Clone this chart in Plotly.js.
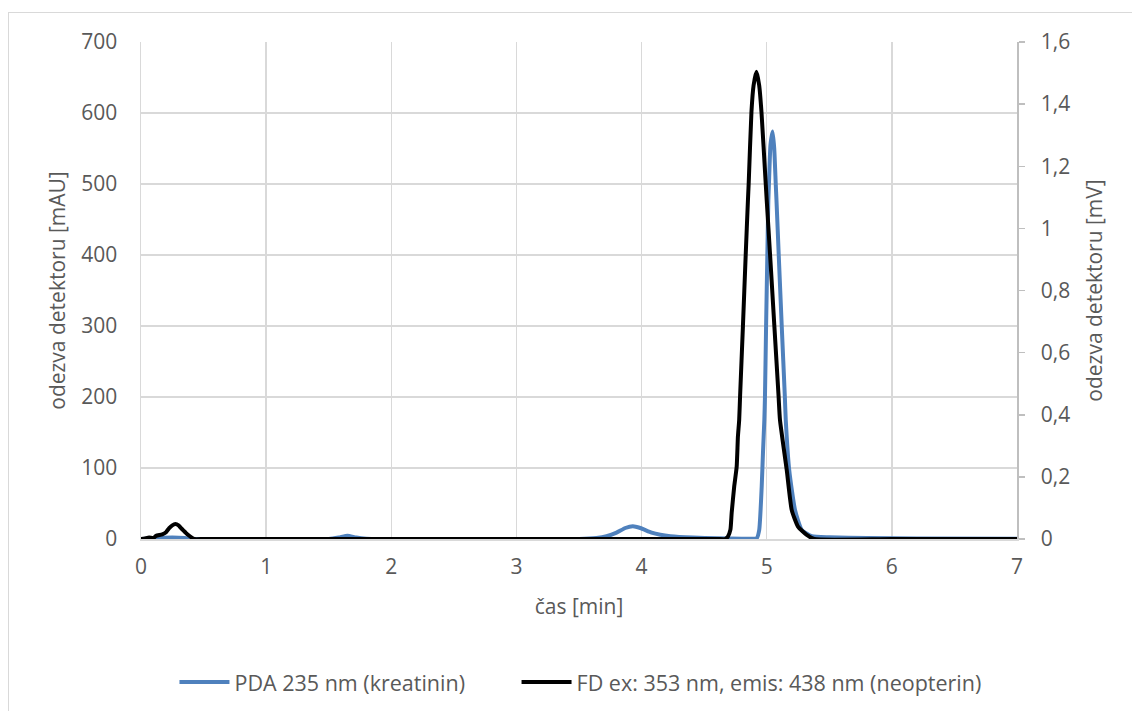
<!DOCTYPE html>
<html>
<head>
<meta charset="utf-8">
<script src="https://cdn.plot.ly/plotly-3.0.1.min.js"></script>
<style>
html,body{margin:0;padding:0;background:#fff;}
#frame{position:absolute;left:8px;top:12px;width:1200px;height:800px;border:1.5px solid #d9d9d9;box-sizing:border-box;}
#chart{position:absolute;left:0;top:0;width:1132px;height:711px;}
</style>
</head>
<body>
<div id="frame"></div>
<div id="chart"></div>
<script>
// PDA 235 nm (kreatinin) — time [min], response [mAU]
const pdaTime = [0, 0.05, 0.15, 0.25, 0.35, 0.42, 1.5, 1.58, 1.65, 1.72, 1.8, 2, 3.5, 3.64, 3.72, 3.8, 3.87, 3.93, 3.99, 4.08, 4.15, 4.23, 4.41, 4.6, 4.8, 4.9, 4.92, 4.94, 4.96, 4.97, 4.981, 4.986, 4.995, 5.005, 5.013, 5.018, 5.03, 5.047, 5.06, 5.072, 5.078, 5.096, 5.12, 5.145, 5.152, 5.18, 5.226, 5.28, 5.36, 5.5, 5.8, 6.2, 7];
const pdaValue = [0, 0.5, 1.5, 2, 1.5, 0, 0, 2, 4.5, 2, 0.5, 0, 0, 1.5, 4, 9, 15.5, 18, 15.5, 9, 6, 4, 2, 1, 0.5, 0.3, 1, 12.7, 74, 121, 168, 200, 300, 400, 477, 501, 555, 574, 550, 501, 477, 400, 300, 200, 168, 97, 41, 12.7, 4, 2.5, 1.5, 0.8, 0.3];

// FD ex: 353 nm, emis: 438 nm (neopterin) — time [min], response [mV]
const fdTime = [0, 0.03, 0.065, 0.1, 0.12, 0.17, 0.2, 0.225, 0.25, 0.275, 0.3, 0.32, 0.34, 0.36, 0.38, 0.4, 0.425, 0.5, 1, 2, 3, 4, 4.6, 4.667, 4.69, 4.71, 4.72, 4.74, 4.76, 4.77, 4.78, 4.787, 4.81, 4.832, 4.85, 4.856, 4.878, 4.895, 4.918, 4.94, 4.958, 4.992, 5.0, 5.027, 5.061, 5.095, 5.106, 5.16, 5.2, 5.25, 5.32, 5.38, 6, 7];
const fdValue = [0, 0.002, 0.005, 0.003, 0.01, 0.015, 0.022, 0.035, 0.044, 0.048, 0.044, 0.035, 0.027, 0.019, 0.012, 0.006, 0, 0, 0, 0, 0, 0, 0, 0, 0.008, 0.03, 0.084, 0.168, 0.233, 0.33, 0.383, 0.458, 0.686, 0.914, 1.091, 1.145, 1.375, 1.46, 1.504, 1.46, 1.375, 1.145, 1.091, 0.914, 0.686, 0.458, 0.383, 0.222, 0.093, 0.04, 0.013, 0, 0, 0];

const leftTicks = [0, 100, 200, 300, 400, 500, 600, 700];
const rightTicks = [0, 0.2, 0.4, 0.6, 0.8, 1, 1.2, 1.4, 1.6];
const rightTickText = ["0", "0,2", "0,4", "0,6", "0,8", "1", "1,2", "1,4", "1,6"];
const xTicks = [0, 1, 2, 3, 4, 5, 6, 7];

const FONT = "Open Sans, sans-serif";
const TXT = "#595959";
const GRID = "#d9d9d9";

const traces = [
  {x: pdaTime, y: pdaValue, type: "scatter", mode: "lines", name: "PDA 235 nm (kreatinin)",
   line: {color: "#4f81bd", width: 4, shape: "spline", smoothing: 0.5}, yaxis: "y", legend: "legend"},
  {x: fdTime, y: fdValue, type: "scatter", mode: "lines", name: "FD ex: 353 nm, emis: 438 nm (neopterin)",
   line: {color: "#000000", width: 4, shape: "spline", smoothing: 0.5}, yaxis: "y2", legend: "legend2"}
];

const legendFont = {family: FONT, size: 21.5, color: TXT};
const layout = {
  width: 1132, height: 711,
  margin: {l: 141, r: 115, t: 42, b: 172, autoexpand: false},
  paper_bgcolor: "rgba(0,0,0,0)", plot_bgcolor: "rgba(0,0,0,0)",
  font: {family: FONT, size: 21, color: TXT},
  showlegend: true,
  legend: {orientation: "h", x: 0.0382, xanchor: "left", y: -0.288, yanchor: "middle",
           itemwidth: 50, font: legendFont},
  legend2: {orientation: "h", x: 0.4287, xanchor: "left", y: -0.288, yanchor: "middle",
           itemwidth: 50, font: legendFont},
  xaxis: {range: [0, 7], tickvals: xTicks, ticktext: xTicks.map(String),
          showgrid: true, gridcolor: GRID, gridwidth: 1.5, zeroline: false,
          showline: true, linecolor: GRID, linewidth: 1.5, ticks: "", ticklabelstandoff: 8,
          title: {text: "čas [min]", standoff: 20, font: {family: FONT, size: 21, color: TXT}}},
  yaxis: {range: [0, 700], tickvals: leftTicks, ticktext: leftTicks.map(String),
          showgrid: true, gridcolor: GRID, gridwidth: 1.5, zeroline: false,
          showline: true, linecolor: GRID, linewidth: 1.5, ticks: "", ticklabelstandoff: 18,
          title: {text: "odezva detektoru [mAU]", standoff: 10, font: {family: FONT, size: 21, color: TXT}}},
  yaxis2: {range: [0, 1.6], overlaying: "y", side: "right", tickvals: rightTicks, ticktext: rightTickText,
           showgrid: false, zeroline: false, showline: true, linecolor: "#bfbfbf", linewidth: 1.5,
           ticks: "outside", ticklen: 6, tickcolor: "#bfbfbf", tickwidth: 1.5, ticklabelstandoff: 12,
           title: {text: "odezva detektoru [mV]", standoff: 18, font: {family: FONT, size: 21, color: TXT}}}
};

Plotly.newPlot("chart", traces, layout, {displayModeBar: false, staticPlot: true});
</script>
</body>
</html>
